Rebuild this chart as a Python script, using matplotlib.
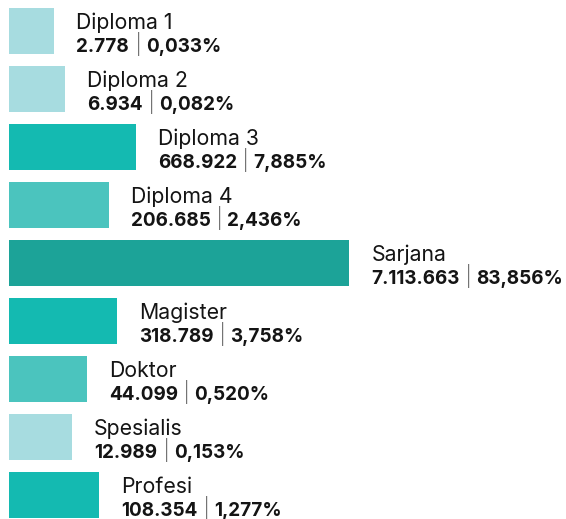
import numpy as np
import matplotlib
matplotlib.use("Agg")
import matplotlib.pyplot as plt

# data
categories = ["Diploma 1", "Diploma 2", "Diploma 3", "Diploma 4", "Sarjana",
              "Magister", "Doktor", "Spesialis", "Profesi"]
values = [2778, 6934, 668922, 206685, 7113663, 318789, 44099, 12989, 108354]
value_labels = ["2.778", "6.934", "668.922", "206.685", "7.113.663",
                "318.789", "44.099", "12.989", "108.354"]
pct_labels = ["0,033%", "0,082%", "7,885%", "2,436%", "83,856%",
              "3,758%", "0,520%", "0,153%", "1,277%"]
colors = ["#a7dce0", "#a7dce0", "#14bab1", "#4bc4be", "#1ca398",
          "#14bab1", "#4bc4be", "#a7dce0", "#14bab1"]

plt.rcParams['font.family'] = ['Inter', 'DejaVu Sans']

# compressed scale: log part for the small ones, linear part for the big one
V0 = 50.0


def fwd(v):
    v = np.clip(np.asarray(v, dtype=float), 1e-6, None)
    return 26 * np.log10(v / V0) + 29 * v / 1e6


grid = np.logspace(-3, 8, 5000)


def inv(x):
    return np.interp(x, fwd(grid), grid)


W, H = 566, 519
fig = plt.figure(figsize=(W / 100, H / 100), dpi=100)
ax = fig.add_axes([0, 0, 1, 1])
ax.set_xscale('function', functions=(fwd, inv))

y = np.arange(len(categories))
ax.barh(y, [v - V0 for v in values], left=V0, height=46 / 58,
        color=colors, linewidth=0)

ax.set_xlim(inv(-9), inv(W - 9))
ax.set_ylim(-31 / 58 + H / 58, -31 / 58)
ax.axis('off')

txt = "#141414"
for i in range(len(categories)):
    ax.annotate(categories[i], xy=(values[i], i), xytext=(22, 2),
                textcoords='offset pixels', ha='left', va='baseline',
                fontsize=15.3, color=txt)
    t1 = ax.annotate(value_labels[i], xy=(values[i], i), xytext=(22, -21),
                     textcoords='offset pixels', ha='left', va='baseline',
                     fontsize=13.6, fontweight='bold', color=txt)
    t2 = ax.annotate("|", xy=(1, 0), xycoords=t1, xytext=(6, 0),
                     textcoords='offset pixels', ha='left', va='bottom',
                     fontsize=13.6, fontweight='light', color="#222222")
    ax.annotate(pct_labels[i], xy=(1, 0), xycoords=t2, xytext=(5, 0),
                textcoords='offset pixels', ha='left', va='bottom',
                fontsize=13.6, fontweight='bold', color=txt)

fig.savefig("out.png", dpi=100)
